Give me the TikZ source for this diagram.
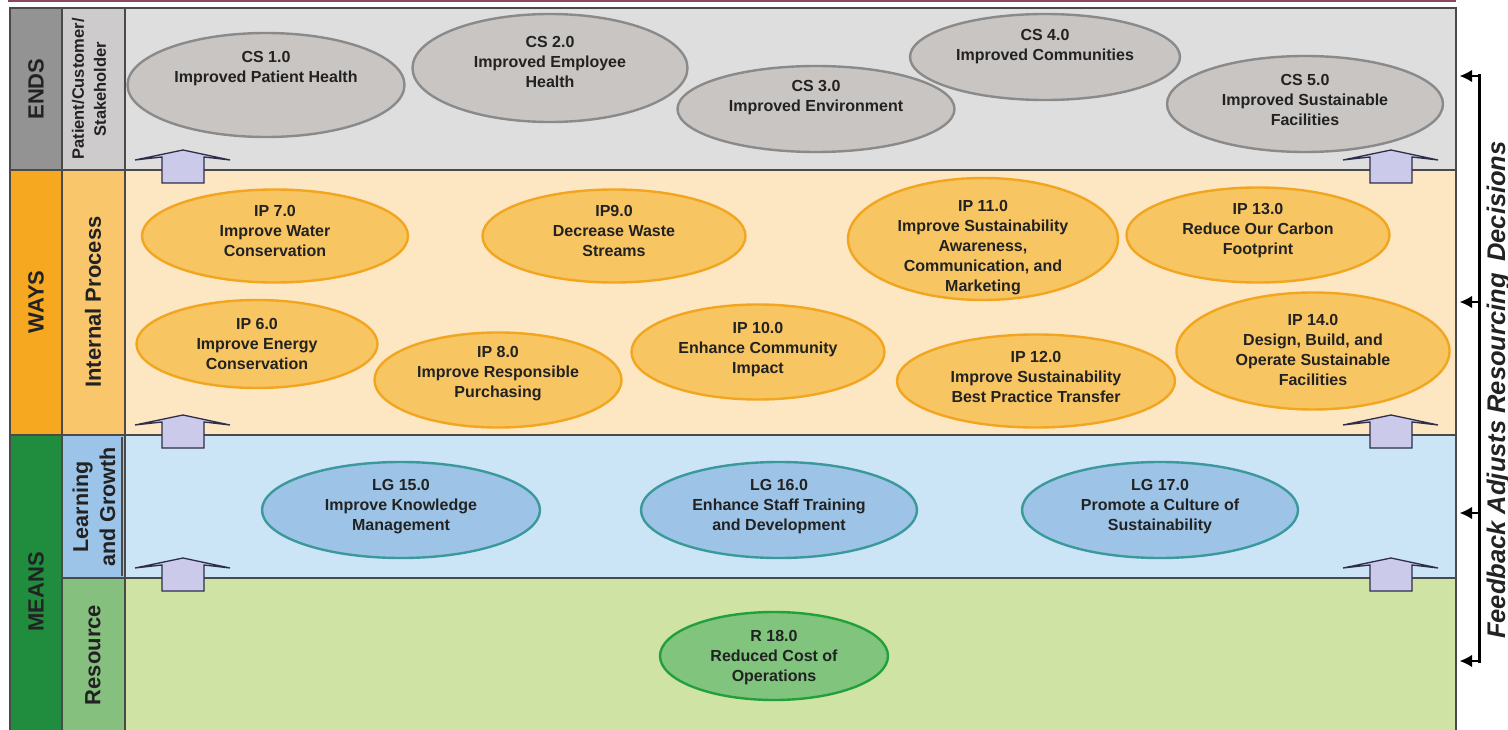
\documentclass[tikz,border=0pt]{standalone}
\usepackage{fontspec}
\setmainfont{Liberation Sans}
\usetikzlibrary{arrows.meta,calc,shapes.geometric}

% band colours
\definecolor{endsdark}{HTML}{939393}
\definecolor{endslab}{HTML}{CDCBCB}
\definecolor{endsbg}{HTML}{DEDEDE}
\definecolor{waysdark}{HTML}{F6A821}
\definecolor{wayslab}{HTML}{F9C66C}
\definecolor{waysbg}{HTML}{FDE7C2}
\definecolor{meansdark}{HTML}{1F8C3E}
\definecolor{lglab}{HTML}{9CC3E8}
\definecolor{lgbg}{HTML}{CBE4F6}
\definecolor{reslab}{HTML}{86C07F}
\definecolor{resbg}{HTML}{CFE3A4}
% oval colours
\definecolor{greyfill}{HTML}{C8C5C3}
\definecolor{greyline}{HTML}{8A8A8A}
\definecolor{orfill}{HTML}{F8C563}
\definecolor{orline}{HTML}{F2A51E}
\definecolor{blfill}{HTML}{9DC4E6}
\definecolor{blline}{HTML}{3B999C}
\definecolor{grfill}{HTML}{80C47D}
\definecolor{grline}{HTML}{22A03C}
\definecolor{arrfill}{HTML}{CBCAEB}
\definecolor{arrline}{HTML}{2E2E4A}
\definecolor{rule}{HTML}{4A4A4A}
\definecolor{txt}{HTML}{222222}
\definecolor{topline}{HTML}{8B4A5C}

% an oval with its text block: name, style, cx, cy, width, height, text centre y, text
\newcommand\ovalnode[8]{%
  \node[#2, minimum width=#5pt, minimum height=#6pt] (#1) at (#3,#4) {};
  \node[ovtext] (#1-t) at (#3,#7) {#8};
}
% block arrow pointing upwards, centred on x=#1 over the band border y=#2
\newcommand\blockup[2]{%
  \draw[blockarrow] ({#1-48},{#2-10}) -- (#1,{#2-20}) -- ({#1+47},{#2-10})
    -- ({#1+21},{#2-13}) -- ({#1+21},{#2+13}) -- ({#1-21},{#2+13})
    -- ({#1-21},{#2-13}) -- cycle;
}

\begin{document}
\begin{tikzpicture}[x=1pt,y=-1pt,
  oval/.style={ellipse, line width=2.4pt, inner sep=0pt},
  greyoval/.style={oval, fill=greyfill, draw=greyline},
  orangeoval/.style={oval, fill=orfill, draw=orline},
  blueoval/.style={oval, fill=blfill, draw=blline},
  greenoval/.style={oval, fill=grfill, draw=grline},
  ovtext/.style={font=\fontsize{16}{20}\selectfont\bfseries, text=txt, align=center, inner sep=0pt},
  bandlabel/.style={font=\fontsize{22}{26}\selectfont\bfseries, text=txt, align=center, rotate=90, inner sep=0pt},
  blockarrow/.style={fill=arrfill, draw=arrline, line width=1.3pt, line join=miter},
  rulestyle/.style={draw=rule, line width=1.8pt},
  fbline/.style={line width=3pt, black},
  fbarrow/.style={line width=2.5pt, black, -{Latex[length=12pt,width=12pt,line width=0pt]}}
]
\useasboundingbox (0,0) rectangle (1508,730);
\fill[white] (0,0) rectangle (1508,730);

% thin rule along the top edge
\draw[topline, line width=2pt] (8,1.5) -- (1456,1.5);

% --- band backgrounds ---
\fill[endsdark] (10,8) rectangle (62,170);
\fill[endslab] (62,8) rectangle (125,170);
\fill[endsbg] (125,8) rectangle (1456,170);
\fill[waysdark] (10,170) rectangle (62,435);
\fill[wayslab] (62,170) rectangle (125,435);
\fill[waysbg] (125,170) rectangle (1456,435);
\fill[meansdark] (10,435) rectangle (62,730);
\fill[lglab] (62,435) rectangle (125,578);
\fill[lgbg] (125,435) rectangle (1456,578);
\fill[reslab] (62,578) rectangle (125,730);
\fill[resbg] (125,578) rectangle (1456,730);

% --- band rules ---
\draw[rulestyle] (10,731) -- (10,8) -- (1456,8) -- (1456,731);
\draw[rulestyle] (62,8) -- (62,731);
\draw[rulestyle] (125,8) -- (125,731);
\draw[rulestyle] (10,170) -- (1456,170);
\draw[rulestyle] (10,435) -- (1456,435);
\draw[rulestyle] (62,578) -- (1456,578);
\draw[draw=rule, line width=1.5pt] (122,437) -- (122,576);

% --- band labels ---
\node[bandlabel] (ends) at (36,89) {ENDS};
\node[bandlabel] (ways) at (36,302) {WAYS};
\node[bandlabel] (means) at (36,592) {MEANS};
\node[bandlabel, font=\fontsize{16.5}{22}\selectfont\bfseries] (pcs) at (89,89) {Patient/Customer/\\Stakeholder};
\node[bandlabel] (ip) at (93,302) {Internal Process};
\node[bandlabel, font=\fontsize{21.5}{27}\selectfont\bfseries] (lg) at (94,507) {Learning\\and Growth};
\node[bandlabel] (res) at (93,655) {Resource};

% --- ENDS ovals ---
\ovalnode{cs1}{greyoval}{266}{85}{277}{104}{68.5}{CS 1.0\\Improved Patient Health}
\ovalnode{cs2}{greyoval}{550}{68}{275}{108}{62}{CS 2.0\\Improved Employee\\Health}
\ovalnode{cs3}{greyoval}{816}{109}{277}{86}{98}{CS 3.0\\Improved Environment}
\ovalnode{cs4}{greyoval}{1045}{57}{270}{86}{46.5}{CS 4.0\\Improved Communities}
\ovalnode{cs5}{greyoval}{1305}{104}{276}{96}{100}{CS 5.0\\Improved Sustainable\\Facilities}

% --- WAYS ovals ---
\ovalnode{ip7}{orangeoval}{275}{236}{266}{93}{231}{IP 7.0\\Improve Water\\Conservation}
\ovalnode{ip9}{orangeoval}{614}{236}{263}{93}{231}{IP9.0\\Decrease Waste\\Streams}
\ovalnode{ip11}{orangeoval}{983}{239}{270}{122}{247.5}{IP 11.0\\Improve Sustainability\\Awareness,\\Communication, and\\Marketing}
\ovalnode{ip13}{orangeoval}{1258}{235}{263}{95}{231}{IP 13.0\\Reduce Our Carbon\\Footprint}
\ovalnode{ip6}{orangeoval}{257}{344}{241}{88}{344}{IP 6.0\\Improve Energy\\Conservation}
\ovalnode{ip8}{orangeoval}{498}{380}{247}{95}{374}{IP 8.0\\Improve Responsible\\Purchasing}
\ovalnode{ip10}{orangeoval}{758}{352}{253}{95}{350}{IP 10.0\\Enhance Community\\Impact}
\ovalnode{ip12}{orangeoval}{1036}{381}{278}{93}{377}{IP 12.0\\Improve Sustainability\\Best Practice Transfer}
\ovalnode{ip14}{orangeoval}{1313}{351}{273}{117}{350}{IP 14.0\\Design, Build, and\\Operate Sustainable\\Facilities}

% --- MEANS ovals ---
\ovalnode{lg15}{blueoval}{401}{510}{278}{96}{507}{LG 15.0\\Improve Knowledge\\Management}
\ovalnode{lg16}{blueoval}{779}{510}{276}{96}{507}{LG 16.0\\Enhance Staff Training\\and Development}
\ovalnode{lg17}{blueoval}{1160}{510}{276}{96}{507}{LG 17.0\\Promote a Culture of\\Sustainability}
\ovalnode{r18}{greenoval}{774}{656}{228}{88}{658}{R 18.0\\Reduced Cost of\\Operations}

% --- upward block arrows between bands ---
\blockup{183}{170}
\blockup{1391}{170}
\blockup{183}{435}
\blockup{1391}{435}
\blockup{183}{578}
\blockup{1391}{578}

% --- feedback bracket ---
\coordinate (fbtop) at (1479,76);
\coordinate (fbmid1) at (1479,302);
\coordinate (fbmid2) at (1479,513);
\coordinate (fbbot) at (1479,661);
\coordinate (fbtipa) at (1460,76);
\coordinate (fbtipb) at (1460,302);
\coordinate (fbtipc) at (1460,513);
\coordinate (fbtipd) at (1460,661);
\draw[fbline] ([yshift=1.5pt]fbtop) -- ([yshift=-1.5pt]fbbot);
\draw[fbarrow] ([xshift=1.5pt]fbtop) -- (fbtipa);
\draw[fbarrow] (fbmid1) -- (fbtipb);
\draw[fbarrow] (fbmid2) -- (fbtipc);
\draw[fbarrow] ([xshift=1.5pt]fbbot) -- (fbtipd);
\node[rotate=90, anchor=base, inner sep=0pt, font=\fontsize{25.5}{30}\selectfont\bfseries\itshape, text=txt]
  (fbtext) at (1505,390) {Feedback Adjusts Resourcing\hspace{0.45em}Decisions};
\end{tikzpicture}
\end{document}
